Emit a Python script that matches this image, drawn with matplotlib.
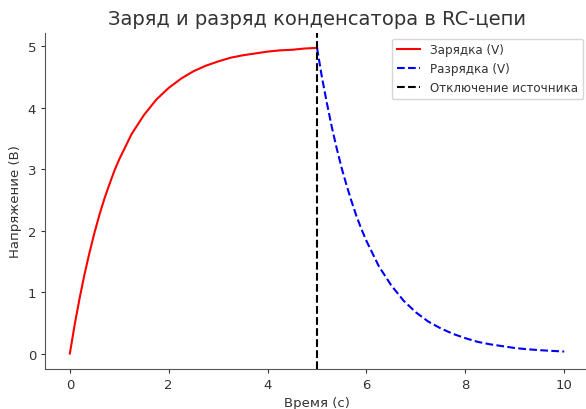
import numpy as np
import matplotlib.pyplot as plt

# Значения
t_charge = [0, 0.1, 0.2, 0.3, 0.4, 0.5, 0.6, 0.7, 0.8, 0.9, 1,
            1.25, 1.5, 1.75, 2, 2.25, 2.5, 2.75, 3, 3.25, 3.5, 3.75,
            4, 4.25, 4.5, 4.75, 5]
v_charge = [0, 0.48, 0.91, 1.30, 1.65, 1.97, 2.26, 2.52, 2.75, 2.97, 3.16,
            3.57, 3.88, 4.13, 4.32, 4.47, 4.59, 4.68, 4.75, 4.81, 4.85, 4.88,
            4.91, 4.93, 4.94, 4.96, 4.97]

t_discharge = [5, 5.1, 5.2, 5.3, 5.4, 5.5, 5.6, 5.7, 5.8, 5.9, 6,
               6.25, 6.5, 6.75, 7, 7.25, 7.5, 7.75, 8, 8.25, 8.5, 8.75,
               9, 9.25, 9.5, 9.75, 10]
v_discharge = [4.97, 4.49, 4.07, 3.68, 3.33, 3.01, 2.73, 2.47, 2.23, 2.02, 1.83,
               1.42, 1.11, 0.86, 0.67, 0.52, 0.41, 0.32, 0.25, 0.19, 0.15, 0.12,
               0.09, 0.07, 0.055, 0.043, 0.033]

t_off = 5

txt = '#333333'
plt.rcParams['font.family'] = ['DejaVu Sans']

fig = plt.figure(figsize=(5.86, 4.10), dpi=100)
ax = fig.add_axes([0.077, 0.098, 0.928, 0.82])

ax.plot(t_charge, v_charge, color='red', lw=1.5, label='Зарядка (V)')
ax.plot(t_discharge, v_discharge, color='blue', lw=1.5, ls='--', label='Разрядка (V)')
ax.axvline(t_off, color='black', lw=1.5, ls='--', label='Отключение источника')

ax.set_title('Заряд и разряд конденсатора в RC-цепи', fontsize=14, color=txt)
ax.set_xlabel('Время (с)', fontsize=9.5, color=txt)
ax.set_ylabel('Напряжение (В)', fontsize=9.5, color=txt)
ax.tick_params(labelsize=9.5, colors=txt, length=3)
for s in ['left', 'bottom']:
    ax.spines[s].set_color('#555555')
ax.spines['top'].set_visible(False)
ax.spines['right'].set_visible(False)

ax.legend(loc='upper right', fontsize=8.6, labelcolor=txt)

fig.savefig('out.png', dpi=100)
